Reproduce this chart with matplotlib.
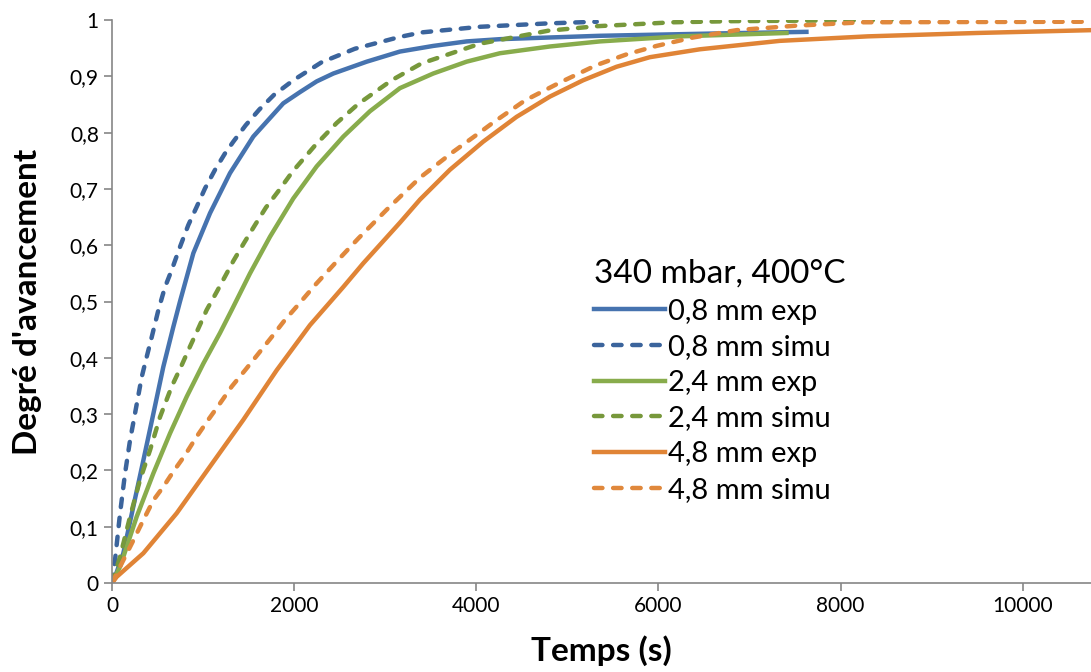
import numpy as np
import matplotlib
matplotlib.use("Agg")
import matplotlib.pyplot as plt
from matplotlib.ticker import FuncFormatter, MultipleLocator

plt.rcParams['font.family'] = ['Lato', 'DejaVu Sans']

# 0,8 mm
t_08_exp = [0, 33, 124, 234, 344, 454, 563, 673, 746, 893, 1076, 1295, 1551, 1880, 2064, 2247, 2430, 2796,
            3161, 3527, 3893, 4259, 4808, 5357, 6600, 7625]
y_08_exp = [0, 0.011, 0.053, 0.136, 0.218, 0.301, 0.384, 0.455, 0.50, 0.586, 0.657, 0.728, 0.793, 0.852, 0.872, 0.891, 0.905, 0.926,
            0.944, 0.954, 0.962, 0.966, 0.969, 0.972, 0.976, 0.979]
t_08_sim = [0, 33, 88, 143, 198, 252, 326, 381, 436, 509, 580, 655, 746, 838, 929, 1021, 1131, 1240, 1332, 1467,
            1617, 1778, 1990, 2301, 2667, 3161, 3399, 4040, 4786, 5323]
y_08_sim = [0, 0.041, 0.124, 0.195, 0.254, 0.301, 0.366, 0.402, 0.437, 0.485, 0.525, 0.556, 0.597, 0.636, 0.668, 0.701, 0.734, 0.763, 0.784, 0.813,
            0.841, 0.867, 0.893, 0.925, 0.949, 0.970, 0.978, 0.988, 0.994, 0.997]

# 2,4 mm
t_24_exp = [0, 88, 271, 454, 637, 820, 1003, 1185, 1314, 1515, 1734, 1990, 2247, 2540, 2832, 3161, 3527, 3893,
            4259, 4808, 5357, 6235, 7406]
y_24_exp = [0, 0.029, 0.118, 0.195, 0.266, 0.331, 0.390, 0.444, 0.485, 0.550, 0.615, 0.683, 0.740, 0.793, 0.838, 0.879, 0.905, 0.926,
            0.941, 0.953, 0.962, 0.971, 0.977]
t_24_sim = [0, 88, 198, 307, 417, 527, 655, 765, 856, 947, 1039, 1149, 1259, 1332, 1449, 1570, 1690, 1826, 1983,
            2228, 2466, 2704, 3070, 3399, 4040, 4789, 5320, 6162, 6820, 7700, 8560]
y_24_sim = [0, 0.047, 0.118, 0.183, 0.236, 0.295, 0.349, 0.387, 0.420, 0.452, 0.485, 0.517, 0.550, 0.572, 0.604, 0.636, 0.667, 0.696, 0.731,
            0.777, 0.817, 0.851, 0.893, 0.923, 0.958, 0.981, 0.989, 0.996, 0.998, 0.999, 1.0]

# 4,8 mm
t_48_exp = [0, 51, 344, 710, 1076, 1442, 1808, 2173, 2400, 2540, 2759, 3161, 3381, 3710, 4076, 4442, 4808,
            5173, 5540, 5906, 6454, 7333, 8300, 9500, 10750]
y_48_exp = [0, 0.011, 0.053, 0.124, 0.207, 0.290, 0.378, 0.458, 0.500, 0.526, 0.568, 0.640, 0.681, 0.734, 0.784, 0.828, 0.864,
            0.893, 0.917, 0.934, 0.948, 0.963, 0.971, 0.977, 0.982]
t_48_sim = [0, 88, 216, 344, 454, 563, 673, 801, 929, 1057, 1185, 1314, 1471, 1610, 1753, 1892, 2027, 2228, 2466,
            2704, 3015, 3381, 3747, 3985, 4186, 4533, 4918, 5320, 5650, 5979, 6381, 6857, 7515, 8247, 10750]
y_48_sim = [0, 0.029, 0.070, 0.112, 0.147, 0.171, 0.198, 0.227, 0.260, 0.290, 0.319, 0.349, 0.380, 0.408, 0.437, 0.466, 0.491, 0.529, 0.571,
            0.612, 0.663, 0.720, 0.766, 0.794, 0.818, 0.857, 0.889, 0.920, 0.939, 0.954, 0.969, 0.982, 0.990, 0.996, 0.997]

labels = ['0,8 mm exp', '0,8 mm simu', '2,4 mm exp', '2,4 mm simu', '4,8 mm exp', '4,8 mm simu']

fig = plt.figure(figsize=(10.91, 6.72), dpi=100)
ax = fig.add_axes([0.1027, 0.1324, 0.8973, 0.8378])

lw = 3.2
dash = (0, (1.9, 2.4))
ax.plot(t_08_exp, y_08_exp, color='#4673AF', lw=lw, label=labels[0])
ax.plot(t_08_sim, y_08_sim, color='#3B649C', lw=lw, ls=dash, dash_capstyle='round', label=labels[1])
ax.plot(t_24_exp, y_24_exp, color='#88AC4C', lw=lw, label=labels[2])
ax.plot(t_24_sim, y_24_sim, color='#77983B', lw=lw, ls=dash, dash_capstyle='round', label=labels[3])
ax.plot(t_48_exp, y_48_exp, color='#E08436', lw=lw, label=labels[4])
ax.plot(t_48_sim, y_48_sim, color='#E0883C', lw=lw, ls=dash, dash_capstyle='round', label=labels[5])

ax.set_xlim(0, 10750)
ax.set_ylim(0, 1)
ax.xaxis.set_major_locator(MultipleLocator(2000))
ax.yaxis.set_major_locator(MultipleLocator(0.1))
ax.yaxis.set_major_formatter(FuncFormatter(lambda v, p: ('%.1f' % v).rstrip('0').rstrip('.').replace('.', ',')))
ax.xaxis.set_major_formatter(FuncFormatter(lambda v, p: '%d' % v))

for s in ['top', 'right']:
    ax.spines[s].set_visible(False)
for s in ['left', 'bottom']:
    ax.spines[s].set_color('#868686')
    ax.spines[s].set_linewidth(1.2)
ax.tick_params(colors='#868686', labelcolor='black', labelsize=15, length=6, width=1.2, direction='out')

ax.set_xlabel('Temps (s)', fontsize=24, fontweight='bold')
ax.set_ylabel("Degré d'avancement", fontsize=24, fontweight='bold')
# xlabel anchored at its top, ylabel at its right edge
ax.xaxis.set_label_coords(0.5, -0.093)
ax.yaxis.set_label_coords(-0.0715, 0.5)

leg = ax.legend(loc='upper left', bbox_to_anchor=(594 / 1091, 1 - 259 / 672), bbox_transform=fig.transFigure,
                frameon=False, fontsize=21, title='340 mbar, 400°C', title_fontsize=24,
                handlelength=2.45, handletextpad=0.1, labelspacing=0.33, borderpad=0, borderaxespad=0)
leg._legend_box.align = 'left'

fig.savefig('out.png', dpi=100)
